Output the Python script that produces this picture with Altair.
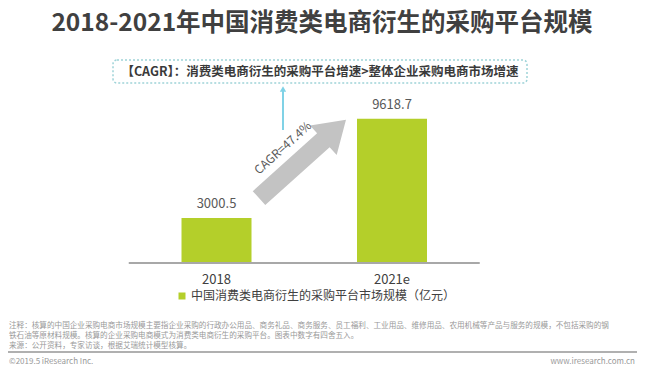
import altair as alt
import pandas as pd

FONT = "Noto Sans CJK SC"

years = ["2018", "2021e"]
values = [3000.5, 9618.7]
series_name = "中国消费类电商衍生的采购平台市场规模（亿元）"
title_text = "2018-2021年中国消费类电商衍生的采购平台规模"
box_text = "【CAGR】：消费类电商衍生的采购平台增速>整体企业采购电商市场增速"
cagr_text = "CAGR=47.4%"
note_lines = [
    "注释：核算的中国企业采购电商市场规模主要指企业采购的行政办公用品、商务礼品、商务服务、员工福利、工业用品、维修用品、农用机械等产品与服务的规模，不包括采购的钢",
    "铁石油等原材料规模。核算的企业采购电商模式为消费类电商衍生的采购平台。图表中数字有四舍五入。",
    "来源：公开资料，专家访谈，根据艾瑞统计模型核算。",
]
footer_left = "©2019.5 iResearch Inc."
footer_right = "www.iresearch.com.cn"

df = pd.DataFrame({"year": years, "value": values, "series": [series_name] * len(years)})
one = pd.DataFrame({"a": [0]})

BAR = "#b4cf2a"
X_RANGE = [112.75, 463.75]
PLOT_H = 255

x = alt.X(
    "year:N",
    sort=years,
    scale=alt.Scale(domain=years, range=X_RANGE, paddingInner=0.6, paddingOuter=0.3),
    axis=alt.Axis(
        title=None, labelAngle=0, ticks=False, tickSize=0, domain=False,
        labelFontSize=13, labelColor="#404040", labelPadding=10, labelFont=FONT,
    ),
)
y = alt.Y("value:Q", scale=alt.Scale(domain=[0, 17000], nice=False), axis=None)

baseline = alt.Chart(one).mark_rule(color="#a8a8a8", strokeWidth=2).encode(
    x=alt.value(X_RANGE[0]), x2=alt.value(X_RANGE[1]), y=alt.value(PLOT_H)
)

bars = alt.Chart(df).mark_bar(size=70).encode(
    x=x,
    y=y,
    color=alt.Color(
        "series:N",
        scale=alt.Scale(range=[BAR]),
        legend=alt.Legend(
            orient="none", legendX=160, legendY=282, title=None, symbolType="square",
            symbolSize=49, labelFontSize=12, labelColor="#404040", labelFont=FONT,
            padding=0, labelOffset=3, symbolStrokeWidth=0, labelLimit=600,
        ),
    ),
)

labels = alt.Chart(df).mark_text(
    dy=-14, baseline="middle", fontSize=13, color="#595959", font=FONT
).encode(x=alt.X("year:N", sort=years), y="value:Q", text=alt.Text("value:Q", format=".1f"))

title = alt.Chart(one).mark_text(
    text=title_text, fontSize=24.5, fontWeight="bold", color="#404040", font=FONT,
    align="center", baseline="middle",
).encode(x=alt.value(306), y=alt.value(16))

box = alt.Chart(one).mark_rect(
    fill="white", stroke="#9fd3d8", strokeWidth=1.5, strokeDash=[2, 2], cornerRadius=4
).encode(x=alt.value(97), x2=alt.value(511), y=alt.value(52), y2=alt.value(75))

box_label = alt.Chart(one).mark_text(
    text=box_text, fontSize=12.5, fontWeight="bold", color="#3a3a3a", font=FONT,
    align="center", baseline="middle",
).encode(x=alt.value(304), y=alt.value(64))

cyan_line = alt.Chart(one).mark_rule(color="#80d2e6", strokeWidth=2).encode(
    x=alt.value(267), y=alt.value(82), y2=alt.value(122)
)
cyan_head = alt.Chart(one).mark_point(
    shape="triangle-up", filled=True, color="#80d2e6", size=40, opacity=1
).encode(x=alt.value(267), y=alt.value(81))

arrow_path = "M -1 -0.16 L 0.48 -0.16 L 0.48 -0.34 L 1 0 L 0.48 0.34 L 0.48 0.16 L -1 0.16 Z"
gray_arrow = alt.Chart(one).mark_point(
    shape=arrow_path, filled=True, color="#c3c3c3", size=13700, angle=318, opacity=1,
    strokeWidth=0,
).encode(x=alt.value(286.5), y=alt.value(151))

cagr = alt.Chart(one).mark_text(
    text=cagr_text, fontSize=12, color="#595959", font=FONT, angle=318,
    align="center", baseline="middle",
).encode(x=alt.value(267), y=alt.value(140))

note_layers = []
for i, line in enumerate(note_lines):
    note_layers.append(
        alt.Chart(one).mark_text(
            text=line, fontSize=7.6, color="#999999", font=FONT, align="left", baseline="middle"
        ).encode(x=alt.value(-7), y=alt.value(318 + 10 * i))
    )

sep = alt.Chart(one).mark_rule(color="#b0b0b0", strokeWidth=2).encode(
    x=alt.value(-8), x2=alt.value(621), y=alt.value(344)
)
foot_l = alt.Chart(one).mark_text(
    text=footer_left, fontSize=8, color="#999999", font=FONT, align="left", baseline="middle"
).encode(x=alt.value(-7), y=alt.value(354))
foot_r = alt.Chart(one).mark_text(
    text=footer_right, fontSize=8, color="#999999", font=FONT, align="right", baseline="middle"
).encode(x=alt.value(619), y=alt.value(354))

chart = alt.layer(
    bars, baseline, labels, title, box, box_label, cyan_line, cyan_head, gray_arrow, cagr,
    *note_layers, sep, foot_l, foot_r,
).properties(
    width=613, height=PLOT_H,
    autosize=alt.AutoSizeParams(type="none"),
    padding={"left": 8, "top": 0, "right": 8, "bottom": 102},
).configure(font=FONT).configure_view(strokeWidth=0, stroke="transparent")

chart.save("out.html", embed_options={"renderer": "svg", "actions": False})
